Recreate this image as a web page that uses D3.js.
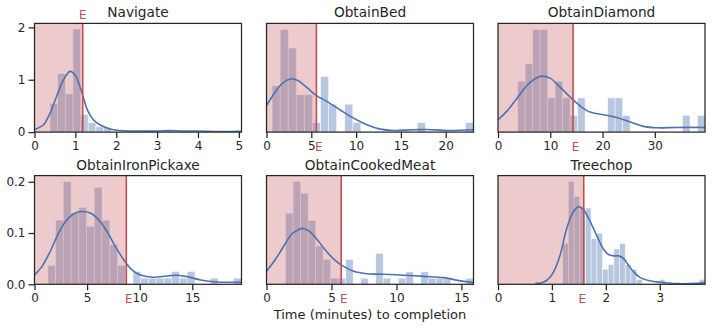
<!DOCTYPE html>
<html>
<head>
<meta charset="utf-8">
<script src="https://cdn.jsdelivr.net/npm/d3@7"></script>
<style>
  body { margin: 0; background: #fff; }
  svg { display: block; font-family: "DejaVu Sans", sans-serif; }
</style>
</head>
<body>
<svg id="chart" width="716" height="328"></svg>
<script>
// task names, one panel each
const titles = ["Navigate", "ObtainBed", "ObtainDiamond", "ObtainIronPickaxe", "ObtainCookedMeat", "Treechop"];

// expert completion time (minutes), shown as the red "E" line
const expertTime = [1.18, 5.57, 14.36, 8.73, 5.75, 1.59];

// axis limits
const xMax = [5.065, 23.1, 39.6, 19.68, 15.93, 3.84];
const yMax = [2.076, 0.265, 0.124, 0.212, 0.358, 1.596];

const xTicks = [[0, 1, 2, 3, 4, 5], [0, 5, 10, 15, 20], [0, 10, 20, 30], [0, 5, 10, 15], [0, 5, 10, 15], [0, 1, 2, 3]];
const yTicks = [[0, 1, 2], null, null, [0, 0.1, 0.2], null, null];
const yFormat = [d3.format("d"), null, null, d3.format(".1f"), null, null];

// histogram bins: first edge, width, then density per bin
const binStart = [0.38, 0.63, 3.77, 1.27, 1.47, 1.2];
const binWidth = [0.187, 0.9, 1.433, 0.736, 0.578, 0.1056];

const navigateHist = [0.546, 1.117, 0.73, 1.97, 0.337, 0.178, 0.1, 0.09, 0, 0, 0, 0, 0, 0, 0, 0.04, 0, 0, 0, 0, 0, 0, 0, 0, 0.03];
const bedHist = [0.113, 0.25, 0.205, 0.091, 0.091, 0.023, 0.136, 0.068, 0, 0.068, 0.023, 0, 0, 0, 0, 0, 0, 0, 0.023, 0, 0, 0, 0, 0, 0.023];
const diamondHist = [0.058, 0.078, 0.117, 0.117, 0.039, 0.058, 0.039, 0.019, 0.039, 0, 0, 0, 0.039, 0.039, 0.019, 0, 0, 0, 0, 0, 0, 0, 0.019, 0, 0.019];
const pickaxeHist = [0.0365, 0.125, 0.2, 0.139, 0.15, 0.113, 0.189, 0.125, 0.077, 0.0365, 0, 0.025, 0.012, 0.012, 0.012, 0.012, 0.025, 0.012, 0.025, 0, 0, 0.012, 0, 0, 0.012];
const meatHist = [0.234, 0.339, 0.3, 0.21, 0.126, 0.082, 0.02, 0.02, 0.082, 0, 0.02, 0, 0.102, 0.02, 0, 0.02, 0.041, 0, 0.041, 0.02, 0.02, 0.02, 0, 0, 0.02];
const treechopHist = [0.6, 1.51, 1.29, 1.12, 1.12, 0.67, 0.75, 0.22, 0.29, 0.52, 0.6, 0.29, 0.22, 0.07, 0, 0, 0, 0.07, 0, 0, 0, 0, 0, 0, 0.07];

// kde curves, [minutes, density]
const navigateKde = [[0, 0.045], [0.22, 0.14], [0.38, 0.36], [0.54, 0.68], [0.71, 1.0], [0.87, 1.16], [0.99, 1.09], [1.11, 0.87], [1.2, 0.65], [1.29, 0.43], [1.44, 0.235], [1.6, 0.14], [1.85, 0.06], [2.18, 0.025], [2.5, 0.02], [3.0, 0.02], [3.3, 0.03], [3.6, 0.02], [4.0, 0.022], [4.5, 0.012], [5.065, 0.015]];
const bedKde = [[0, 0.064], [0.75, 0.091], [1.5, 0.113], [2.24, 0.126], [2.8, 0.13], [3.55, 0.125], [4.49, 0.109], [5.57, 0.089], [6.73, 0.075], [8.22, 0.054], [9.72, 0.034], [11.2, 0.018], [12.7, 0.0073], [14.2, 0.004], [16.4, 0.0057], [17.9, 0.0065], [20.2, 0.004], [23.1, 0.0057]];
const diamondKde = [[0, 0.0141], [1.66, 0.0236], [3.57, 0.038], [5.49, 0.0528], [7.08, 0.0608], [8.36, 0.0638], [9.96, 0.0616], [11.87, 0.0513], [13.8, 0.04], [15.7, 0.03], [17.6, 0.0228], [20.2, 0.0198], [22.7, 0.0167], [25.3, 0.0114], [27.8, 0.0065], [30.4, 0.0049], [34.2, 0.0053], [39.6, 0.0053]];
const pickaxeKde = [[0, 0.018], [0.7, 0.0345], [1.49, 0.064], [2.29, 0.1], [3.08, 0.126], [3.87, 0.139], [4.5, 0.142], [5.3, 0.139], [6.1, 0.126], [6.89, 0.103], [7.68, 0.074], [8.48, 0.048], [9.27, 0.028], [10.06, 0.018], [11.3, 0.0137], [12.6, 0.0163], [13.56, 0.0176], [14.5, 0.015], [15.8, 0.0085], [17.4, 0.0046], [19.68, 0.004]];
const meatKde = [[0, 0.043], [0.64, 0.079], [1.29, 0.123], [1.93, 0.165], [2.45, 0.18], [2.84, 0.184], [3.35, 0.173], [4.0, 0.142], [4.64, 0.107], [5.28, 0.079], [5.93, 0.059], [6.7, 0.043], [7.73, 0.035], [9.0, 0.033], [10.57, 0.03], [12.1, 0.026], [13.66, 0.022], [14.7, 0.013], [15.93, 0.0055]];
const treechopKde = [[0.69, 0.01], [0.85, 0.034], [0.97, 0.108], [1.06, 0.23], [1.16, 0.45], [1.25, 0.75], [1.34, 0.97], [1.43, 1.1], [1.5, 1.14], [1.59, 1.09], [1.68, 0.97], [1.77, 0.82], [1.87, 0.65], [1.96, 0.51], [2.05, 0.437], [2.15, 0.417], [2.24, 0.417], [2.33, 0.378], [2.42, 0.28], [2.52, 0.18], [2.64, 0.098], [2.83, 0.049], [3.01, 0.029], [3.32, 0.01], [3.69, 0.015], [3.84, 0.025]];

const hists = [navigateHist, bedHist, diamondHist, pickaxeHist, meatHist, treechopHist];
const kdes = [navigateKde, bedKde, diamondKde, pickaxeKde, meatKde, treechopKde];

const blue = "#4c72b0", red = "#c44e52", ink = "#262626";
const colX = [34.5, 266.5, 498], rowY = [23.4, 175.6];
const pw = 207, ph = 108.7;

const svg = d3.select("#chart");

titles.forEach((title, i) => {
  const left = colX[i % 3], top = rowY[Math.floor(i / 3)];
  const g = svg.append("g").attr("transform", `translate(${left},${top})`);

  const x = d3.scaleLinear([0, xMax[i]], [0, pw]);
  const y = d3.scaleLinear([0, yMax[i]], [ph, 0]);

  g.append("clipPath").attr("id", "clip" + i)
    .append("rect").attr("width", pw).attr("height", ph);
  const plot = g.append("g").attr("clip-path", `url(#clip${i})`);

  const bins = hists[i].map((v, k) => ({x0: binStart[i] + k * binWidth[i], v: v}))
    .filter(d => d.v > 0);

  plot.selectAll("rect.bar")
    .data(bins)
    .join("rect")
    .attr("class", "bar")
    .attr("x", d => x(d.x0))
    .attr("width", d => x(d.x0 + binWidth[i]) - x(d.x0))
    .attr("y", d => y(d.v))
    .attr("height", d => y(0) - y(d.v))
    .attr("fill", blue)
    .attr("fill-opacity", 0.4)
    .attr("stroke", "#fff")
    .attr("stroke-opacity", 0.6)
    .attr("stroke-width", 0.8);

  // shaded region up to the expert time
  plot.append("rect")
    .attr("x", x(0))
    .attr("width", x(expertTime[i]) - x(0))
    .attr("y", 0)
    .attr("height", ph)
    .attr("fill", red)
    .attr("fill-opacity", 0.3);

  plot.append("path")
    .datum(kdes[i])
    .attr("fill", "none")
    .attr("stroke", blue)
    .attr("stroke-width", 1.6)
    .attr("d", d3.line().x(d => x(d[0])).y(d => y(d[1])).curve(d3.curveCatmullRom));

  plot.append("line")
    .attr("x1", x(expertTime[i])).attr("x2", x(expertTime[i]))
    .attr("y1", 0).attr("y2", ph)
    .attr("stroke", red)
    .attr("stroke-width", 1.6);

  // x axis
  const xa = g.append("g")
    .attr("transform", `translate(0,${ph})`)
    .call(d3.axisBottom(x).tickValues(xTicks[i]).tickFormat(d3.format("d")).tickSize(6).tickPadding(3));
  xa.select(".domain").remove();
  xa.selectAll("line").attr("stroke", ink).attr("stroke-width", 1.25);
  xa.selectAll("text").attr("fill", ink).attr("font-size", 12).attr("font-family", "DejaVu Sans");

  // E label: above the axes for Navigate, with the tick labels elsewhere
  if (i === 0) {
    g.append("text")
      .attr("x", x(expertTime[i])).attr("y", -4.5)
      .attr("text-anchor", "middle")
      .attr("fill", red).attr("font-size", 12)
      .text("E");
  } else {
    g.append("text")
      .attr("x", x(expertTime[i]) + (i === 5 ? -1.5 : 2.5)).attr("y", ph + 18.8)
      .attr("text-anchor", "middle")
      .attr("fill", red).attr("font-size", 12)
      .text("E");
  }

  if (yTicks[i]) {
    const ya = g.append("g")
      .call(d3.axisLeft(y).tickValues(yTicks[i]).tickFormat(yFormat[i]).tickSize(6).tickPadding(3));
    ya.select(".domain").remove();
    ya.selectAll("line").attr("stroke", ink).attr("stroke-width", 1.25);
    ya.selectAll("text").attr("fill", ink).attr("font-size", 12).attr("font-family", "DejaVu Sans");
  }

  g.append("rect")
    .attr("width", pw).attr("height", ph)
    .attr("fill", "none")
    .attr("stroke", ink)
    .attr("stroke-width", 1.25);

  g.append("text")
    .attr("x", pw / 2).attr("y", -6)
    .attr("text-anchor", "middle")
    .attr("fill", ink).attr("font-size", 13.7)
    .text(title);
});

svg.append("text")
  .attr("x", colX[1] + pw / 2).attr("y", 319)
  .attr("text-anchor", "middle")
  .attr("fill", ink).attr("font-size", 13)
  .text("Time (minutes) to completion");
</script>
</body>
</html>
